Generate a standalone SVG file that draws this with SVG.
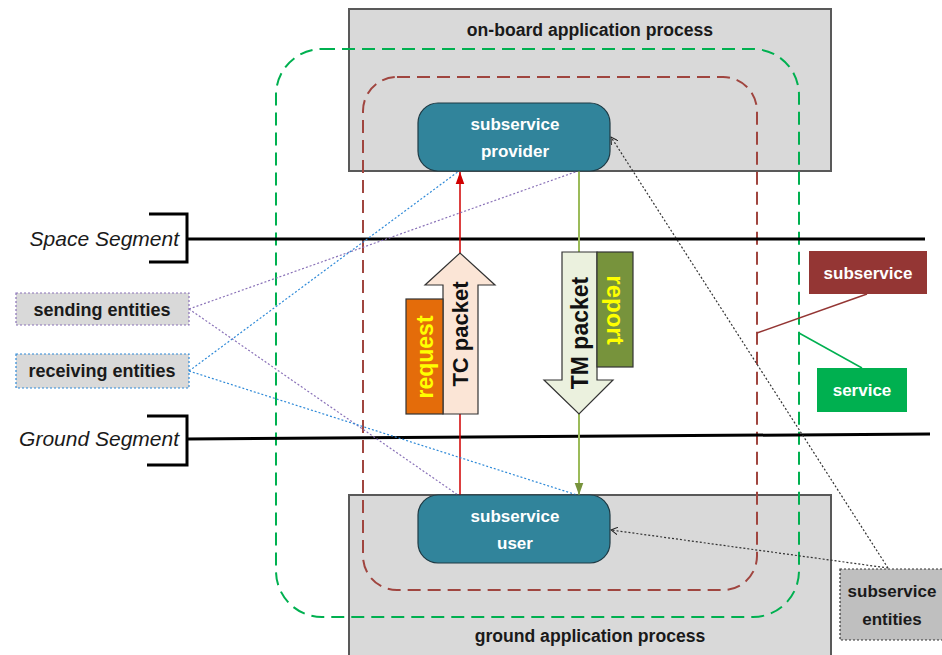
<svg xmlns="http://www.w3.org/2000/svg" width="942" height="655" viewBox="0 0 942 655">
<defs>
<style>
.proc{fill:#d9d9d9;stroke:#595959;stroke-width:2}
.node{fill:#31849b;stroke:#1f3a44;stroke-width:1.2}
.nt{font-family:"Liberation Sans",Arial,sans-serif;font-weight:bold;font-size:17px;fill:#ffffff;text-anchor:middle}
.bt{font-family:"Liberation Sans",Arial,sans-serif;font-weight:bold;font-size:17px;fill:#1a1a1a;text-anchor:middle}
.et{font-family:"Liberation Sans",Arial,sans-serif;font-weight:bold;font-size:18px;fill:#1a1a1a;text-anchor:middle}
.seg{font-family:"Liberation Sans",Arial,sans-serif;font-style:italic;font-size:21px;fill:#1a1a1a;text-anchor:end}
.pk{font-family:"Liberation Sans",Arial,sans-serif;font-weight:bold;font-size:22px;text-anchor:middle}
.segl{fill:none;stroke:#000;stroke-width:3}
.purp{fill:none;stroke:#8a72b8;stroke-width:1.2;stroke-dasharray:2 2}
.blue{fill:none;stroke:#2f8ad8;stroke-width:1.2;stroke-dasharray:2 2}
.blk{fill:none;stroke:#333;stroke-width:1.2;stroke-dasharray:2 2}
</style>
<marker id="ared" markerUnits="userSpaceOnUse" markerWidth="12" markerHeight="16" refX="14" refY="5" orient="auto" viewBox="0 0 14 10">
<path d="M0,0 L14,5 L0,10 Z" fill="#d00000"/>
</marker>
<marker id="agrn" markerUnits="userSpaceOnUse" markerWidth="12" markerHeight="16" refX="14" refY="5" orient="auto" viewBox="0 0 14 10">
<path d="M0,0 L14,5 L0,10 Z" fill="#77933c"/>
</marker>
<marker id="aopen" markerUnits="userSpaceOnUse" markerWidth="8" markerHeight="8" refX="7" refY="4" orient="auto" viewBox="0 0 8 8">
<path d="M0,0 L7,4 L0,8" fill="none" stroke="#222" stroke-width="1"/>
</marker>
</defs>
<rect width="942" height="655" fill="#ffffff"/>

<g id="onboard-process">
<rect class="proc" x="349" y="9" width="482" height="162"/>
<text class="bt" x="590" y="36" style="font-size:17.6px">on-board application process</text>
</g>
<g id="ground-process">
<rect class="proc" x="349" y="495" width="482" height="170"/>
<text class="bt" x="590" y="642" style="font-size:17.6px">ground application process</text>
</g>

<g id="service-boundary">
<rect x="276" y="49" width="523" height="568" rx="46" ry="46" fill="none" stroke="#00b050" stroke-width="2" stroke-dasharray="13 7"/>
</g>
<g id="subservice-boundary">
<rect x="363" y="77" width="394" height="513" rx="34" ry="34" fill="none" stroke="#a0453f" stroke-width="2" stroke-dasharray="13 7"/>
</g>

<g id="space-segment">
<path class="segl" d="M149,214 H187 V262 H149"/>
<path class="segl" d="M187,239 H925"/>
<text class="seg" x="179" y="246">Space Segment</text>
</g>
<g id="ground-segment">
<path class="segl" d="M147,416 H187 V465 H147"/>
<path class="segl" d="M187,439 L930,434"/>
<text class="seg" x="179" y="446">Ground Segment</text>
</g>

<g id="connectors">
<line x1="460" y1="497" x2="460" y2="172" stroke="#d00000" stroke-width="1.5" marker-end="url(#ared)"/>
<line x1="579" y1="171" x2="579" y2="495" stroke="#9bbb59" stroke-width="2" marker-end="url(#agrn)"/>
<line class="purp" x1="189" y1="309" x2="578" y2="171"/>
<line class="purp" x1="189" y1="309" x2="458" y2="495"/>
<line class="blue" x1="189" y1="371" x2="459" y2="171"/>
<line class="blue" x1="189" y1="371" x2="577" y2="495"/>
<line class="blk" x1="888" y1="568" x2="611" y2="137" marker-end="url(#aopen)"/>
<line class="blk" x1="888" y1="568" x2="611" y2="530" marker-end="url(#aopen)"/>
<line x1="867" y1="294" x2="757" y2="333" stroke="#943634" stroke-width="1.5"/>
<line x1="799" y1="333" x2="862" y2="368" stroke="#00b050" stroke-width="1.5"/>
</g>

<g id="subservice-provider">
<rect class="node" x="418" y="103" width="192" height="68" rx="20" ry="20"/>
<text class="nt" x="515" y="130">subservice</text>
<text class="nt" x="515" y="157">provider</text>
</g>
<g id="subservice-user">
<rect class="node" x="418" y="495" width="192" height="68" rx="20" ry="20"/>
<text class="nt" x="515" y="522">subservice</text>
<text class="nt" x="515" y="549">user</text>
</g>

<g id="tc-packet">
<path d="M443,414 V285 H425 L460,253 L495,285 H478 V414 Z" fill="#fbe5d6" stroke="#333" stroke-width="1.2"/>
<text class="pk" fill="#111" transform="translate(460,334) rotate(-90)" x="0" y="8">TC packet</text>
</g>
<g id="request">
<rect x="406" y="299" width="37" height="115" fill="#e46c0a" stroke="#333" stroke-width="1.2"/>
<text class="pk" fill="#ffff00" transform="translate(425,357) rotate(-90)" x="0" y="8" style="font-size:23px">request</text>
</g>
<g id="tm-packet">
<path d="M562,252 H597 V380 H613 L579,414 L544,380 H562 Z" fill="#ebf1de" stroke="#333" stroke-width="1.2"/>
<text class="pk" fill="#111" transform="translate(580,333) rotate(-90)" x="0" y="8" style="font-size:23px">TM packet</text>
</g>
<g id="report">
<rect x="597" y="252" width="36" height="115" fill="#77933c" stroke="#333" stroke-width="1.2"/>
<text class="pk" fill="#ffff00" transform="translate(615,310) rotate(90)" x="0" y="8" style="font-size:24px">report</text>
</g>

<g id="sending-entities">
<rect x="16" y="293" width="173" height="32" fill="#d9d9d9" stroke="#8a72b8" stroke-width="1.2" stroke-dasharray="2 2"/>
<text class="et" x="102" y="316">sending entities</text>
</g>
<g id="receiving-entities">
<rect x="16" y="354" width="173" height="34" fill="#d9d9d9" stroke="#2f8ad8" stroke-width="1.2" stroke-dasharray="2 2"/>
<text class="et" x="102" y="377">receiving entities</text>
</g>
<g id="subservice-label">
<rect x="809" y="251" width="118" height="43" fill="#943634"/>
<text class="nt" x="868" y="279">subservice</text>
</g>
<g id="service-label">
<rect x="817" y="368" width="90" height="44" fill="#00b050"/>
<text class="nt" x="862" y="396">service</text>
</g>
<g id="subservice-entities">
<rect x="840" y="569" width="110" height="71" fill="#bfbfbf" stroke="#333" stroke-width="1.2" stroke-dasharray="2 2"/>
<text class="bt" x="892" y="597">subservice</text>
<text class="bt" x="892" y="625">entities</text>
</g>
</svg>
